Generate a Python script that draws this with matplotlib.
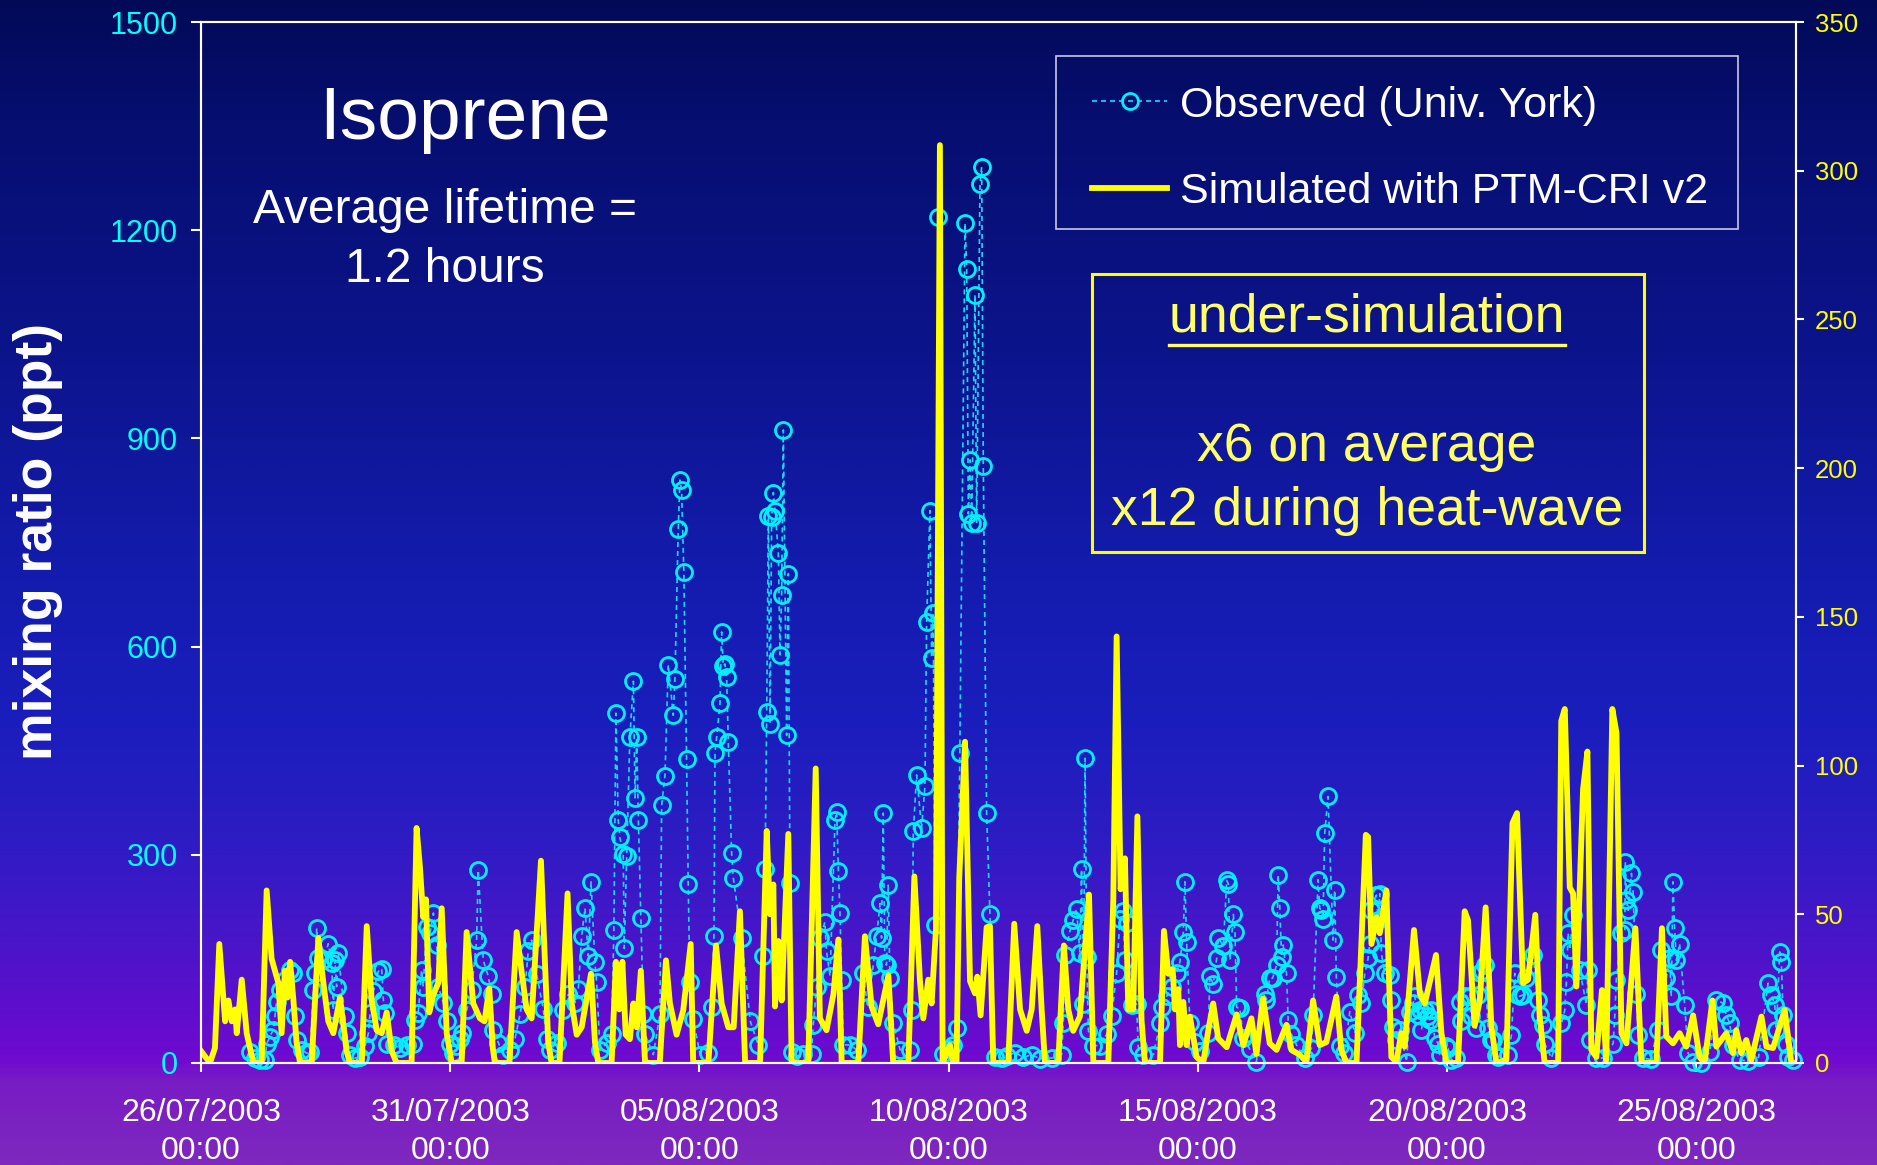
import numpy as np
import matplotlib
matplotlib.use('Agg')
import matplotlib.pyplot as plt
from matplotlib.colors import LinearSegmentedColormap
from matplotlib.lines import Line2D
from matplotlib.patches import Rectangle

plt.rcParams['font.family'] = ['Liberation Sans', 'DejaVu Sans']

# x axis = hours since 26/07/2003 00:00
date_ticks = [0, 120, 240, 360, 480, 600, 720]
date_labels = ['26/07/2003\n00:00', '31/07/2003\n00:00', '05/08/2003\n00:00',
               '10/08/2003\n00:00', '15/08/2003\n00:00', '20/08/2003\n00:00',
               '25/08/2003\n00:00']
ppt_ticks = [0, 300, 600, 900, 1200, 1500]
sim_ticks = [0, 50, 100, 150, 200, 250, 300, 350]

# observed isoprene (ppt), (hour, value)
obs_pts = [
    (23.6, 16), (26, 7), (28.4, 4), (30.8, 4), (31.6, 28), (33.2, 38), (34.8, 48), (35.6, 67),
    (36.4, 88), (38, 105), (40.4, 120), (42.9, 134), (44.5, 129), (45.3, 67), (46, 33), (48.5, 19),
    (50.9, 14), (52.5, 16), (54.1, 105), (54.9, 129), (55.7, 194), (56.5, 151), (58.9, 148),
    (61.3, 172), (62.9, 144), (63.7, 76), (64.5, 148), (65.3, 110), (66.1, 158), (69.3, 67),
    (70.1, 43), (71.7, 12), (74.1, 7), (76.6, 9), (79, 24), (80.6, 43), (81.4, 72), (83, 103),
    (85.4, 132), (87, 136), (87.8, 91), (88.6, 72), (89.4, 28), (92.8, 26), (95.8, 21), (99, 26),
    (102.2, 28), (103, 62), (104.6, 72), (106.2, 134), (107, 110), (108.6, 196), (110.3, 187),
    (111.9, 216), (113.5, 170), (114.3, 110), (116.7, 86), (118.3, 60), (119.9, 28), (121.5, 14),
    (123, 24), (124.7, 35), (125.5, 43), (127.9, 76), (130.3, 105), (132.7, 177), (133.5, 278),
    (135.9, 148), (138.3, 125), (139.9, 99), (140.7, 47), (143.2, 29), (145.5, 12), (148.8, 18),
    (151.2, 35), (153.6, 70), (156, 110), (157.6, 162), (159.2, 177), (161.6, 128), (164.8, 78),
    (166.4, 35), (168, 18), (171.2, 29), (174.5, 76), (176.9, 99), (180.1, 87), (181.7, 107),
    (183.3, 183), (184.9, 223), (186.5, 154), (187.8, 261), (189.7, 145), (190.5, 116), (192.1, 18),
    (195.3, 29), (197.7, 41), (198.8, 191), (199.8, 504), (200.9, 350), (201.7, 325), (203.3, 301),
    (203.8, 165), (205, 298), (206.5, 469), (208.2, 550), (209, 382), (209.8, 469), (210.6, 350),
    (211.8, 209), (213, 70), (213.8, 41), (217.8, 12), (221, 70), (221.8, 371), (223.4, 414),
    (225, 574), (227.4, 501), (228.2, 553), (229.8, 770), (230.6, 840), (231.4, 826), (232.5, 707),
    (233.8, 438), (234.6, 258), (235.4, 116), (237, 64), (240.3, 12), (244.3, 15), (245.9, 81),
    (247, 183), (247.5, 447), (248.3, 470), (249.9, 518), (250.7, 621), (251.5, 572), (252.3, 575),
    (253.1, 556), (253.9, 463), (255.5, 302), (256.3, 267), (260.3, 180), (264.5, 60), (268.3, 26),
    (270.8, 154), (271.6, 280), (272.4, 506), (273.2, 788), (274, 489), (274.8, 787), (275.6, 822),
    (276.4, 796), (278, 735), (278.8, 588), (279.6, 675), (280.4, 912), (282, 472), (282.8, 705),
    (283.6, 260), (284.4, 16), (287, 10), (290, 13), (294, 13), (294.8, 55), (296.4, 109), (298, 180),
    (300.4, 203), (301.2, 161), (302.9, 125), (305.3, 350), (306.1, 362), (306.9, 277), (307.7, 216),
    (308.5, 119), (309.3, 26), (312.5, 26), (315.7, 19), (318.9, 129), (321, 80), (323.7, 141),
    (325.3, 183), (327, 230), (327.7, 180), (328.5, 360), (329.3, 144), (330.1, 141), (330.9, 256),
    (331.7, 122), (333.3, 58), (336.6, 19), (341.4, 19), (342.2, 77), (343, 334), (344.6, 415),
    (347, 338), (348.6, 399), (349.4, 636), (351, 796), (351.8, 584), (352.6, 649), (353.4, 199),
    (355, 1219), (357.4, 13), (360, 20), (362.2, 26), (363.8, 51), (365.4, 447), (367.9, 1210),
    (368.7, 1144), (369.5, 791), (370.3, 869), (371.1, 778), (372.7, 1107), (373.5, 778),
    (375.1, 1266), (375.9, 1291), (376.7, 860), (378.3, 360), (379.9, 214), (382.3, 9), (385.5, 7),
    (388, 10), (392, 15), (396, 8), (400, 12), (404, 6), (409.6, 7), (414.4, 12), (415.2, 57),
    (416, 156), (418.4, 190), (420, 206), (421.6, 222), (423.2, 159), (424, 279), (424.9, 85),
    (425.7, 439), (426.5, 153), (427.3, 46), (429.7, 25), (432.9, 25), (436.1, 41), (438.5, 67),
    (440.9, 130), (442.5, 208), (444.1, 219), (444.9, 148), (445.7, 201), (448.1, 83), (450.5, 85),
    (451.3, 23), (453.7, 12), (458.6, 12), (461.8, 57), (462.6, 80), (465, 96), (467.4, 109),
    (469.8, 130), (471.4, 146), (473, 188), (473.8, 261), (474.6, 174), (476.2, 57), (478.5, 30),
    (481, 17), (485, 43), (485.8, 125), (487.4, 114), (489.1, 151), (489.9, 180), (492.3, 169),
    (493.9, 263), (494.7, 258), (495.5, 148), (497.1, 214), (497.9, 188), (498.7, 80), (500.2, 79),
    (501.9, 36), (505, 20), (508.2, 2), (512.2, 100), (513, 91), (514.6, 122), (516, 122),
    (517.9, 141), (518.7, 271), (519.5, 223), (520.3, 153), (521.1, 170), (522.7, 129), (523.5, 62),
    (525.1, 41), (527.5, 26), (531.5, 7), (534.7, 21), (535.5, 69), (537.9, 264), (538.7, 223),
    (539.5, 220), (540.3, 208), (541.1, 331), (542.7, 384), (545.1, 177), (545.9, 249), (546.7, 124),
    (548.3, 24), (550.5, 15), (553.2, 74), (555.6, 43), (557.2, 98), (558.8, 86), (560.4, 129),
    (562, 151), (562.8, 172), (563.6, 220), (566, 242), (566.8, 206), (567.6, 244), (568.4, 158),
    (570, 129), (572.4, 127), (573.2, 91), (574, 52), (575.6, 33), (577.2, 48), (580.5, 2),
    (582.1, 74), (583.7, 86), (584.4, 96), (586.1, 69), (586.9, 76), (587.7, 48), (589.3, 76),
    (590.9, 67), (591.7, 62), (592.5, 76), (594.1, 36), (595.7, 28), (596.5, 12), (599.7, 24),
    (600.5, 21), (602.1, 4), (604.5, 7), (606.1, 88), (606.9, 60), (608.5, 96), (610.9, 96),
    (611.5, 67), (614.1, 50), (614.9, 98), (615.7, 129), (616.6, 132), (618.2, 141), (619.8, 50),
    (621.4, 33), (622.1, 33), (623.8, 12), (624.6, 9), (629.4, 12), (631, 40), (632.6, 129),
    (633.4, 100), (635, 96), (636.6, 98), (638.2, 122), (641.4, 156), (643.8, 91), (644.6, 69),
    (646.2, 55), (647, 28), (650.3, 7), (655.1, 57), (656.7, 76), (657.5, 117), (658.3, 187),
    (659.1, 163), (660.7, 213), (663.9, 134), (667.1, 84), (667.9, 134), (668.7, 33), (671.9, 7),
    (675, 7), (680, 28), (680.8, 69), (681.5, 120), (684, 187), (685.6, 192), (685.9, 290),
    (686.4, 235), (687.2, 220), (688.8, 273), (689.6, 247), (691.2, 100), (692, 40), (694.4, 7),
    (698, 5), (701.6, 48), (703.2, 163), (705.6, 122), (707.2, 151), (708, 96), (708.8, 261),
    (709.6, 194), (710.4, 148), (712, 172), (714.4, 84), (716.1, 14), (718.5, 2), (722.5, 0),
    (726.5, 16), (729.7, 91), (732.9, 86), (734.5, 69), (736.1, 57), (737.7, 26), (740.9, 4),
    (745, 3), (750, 8), (754.6, 115), (756.2, 98), (757.8, 84), (758.6, 48), (760.2, 160),
    (761, 146), (761.8, 69), (763.4, 28), (764.2, 9), (766.6, 4),
]

# simulated isoprene, PTM-CRI v2 (right axis), (hour, value)
sim_pts = [
    (0, 4), (4.3, 0), (6.7, 5), (8.8, 40), (11.6, 14), (13.2, 21), (14.8, 14), (16.4, 18), (17.2, 10),
    (19.6, 28), (22, 10), (25.2, 0), (29.2, 0), (31.6, 58), (34, 35), (37.2, 27), (38.8, 10),
    (40.4, 31), (41.6, 22), (42.9, 34), (44.5, 21), (46, 7), (47.7, 0), (53.3, 0), (56.5, 42),
    (58.9, 27), (61.3, 14), (63.7, 10), (66.9, 22), (70.1, 4), (71.7, 0), (77.4, 0), (79.8, 46),
    (82.2, 21), (84.6, 11), (87, 10), (89.4, 17), (91.8, 4), (94.2, 0), (101.4, 0), (103.8, 79),
    (105.4, 66), (107, 49), (108.3, 55), (109.9, 17), (111.9, 23), (114.3, 27), (115.9, 52),
    (118.3, 10), (120.7, 0), (125.5, 0), (127.9, 44), (131.1, 20), (134.3, 15), (136.5, 14),
    (138.8, 25), (140.5, 5), (141.5, 0), (148.5, 0), (152, 44), (154.5, 30), (156.8, 18), (159.2, 15),
    (163.7, 68), (165.6, 34), (167.2, 7), (168.8, 0), (172.6, 0), (176.5, 57), (178.5, 20),
    (180.9, 9.5), (183.3, 12), (187.8, 30), (189.7, 7), (191.3, 0), (197.7, 0), (199.8, 34),
    (201.4, 18), (202.9, 34), (204.5, 9.5), (206.5, 8), (208.2, 20), (209.8, 12), (211.8, 31),
    (213.8, 0), (220.9, 0), (223.9, 34.5), (225.8, 20), (229, 9.5), (232.2, 17.7), (235.8, 40),
    (237, 0), (244.3, 0), (248, 39.5), (250.7, 20), (253.9, 12), (256.5, 12), (259.5, 51), (262, 0),
    (269.2, 0), (272.4, 78), (274, 50), (275.6, 60), (276.4, 19), (278, 41), (279.6, 21), (282.8, 77),
    (284.4, 0), (292.4, 0), (296, 99), (298, 15), (301.2, 11), (304.5, 23), (306.9, 41.5), (308.5, 0),
    (316.5, 0), (319.7, 42.6), (322.9, 19), (326.1, 13), (328.5, 21), (331, 29.5), (333.3, 0),
    (340.6, 0), (343.5, 62.7), (346.2, 27.5), (347.8, 15), (350.2, 28), (351.8, 20), (353.9, 45),
    (355.8, 308.6), (357.1, 0), (360.6, 6), (362.2, 0), (363.8, 0), (365.1, 62), (367.9, 108),
    (370.3, 27.5), (372.7, 23.4), (373.8, 29), (375.4, 16), (378.3, 45.6), (379.9, 46), (381.5, 0),
    (388.7, 0), (391.6, 46.8), (394.4, 18), (397.6, 10.8), (400, 18), (402.7, 46), (404.8, 18),
    (406.4, 0), (412.8, 0), (415.5, 39.5), (417.6, 18), (420, 10.8), (423.2, 15.6), (427.6, 56.6),
    (429.7, 0), (436.9, 0), (439.3, 54.8), (440.9, 143.4), (442.8, 58.4), (444.9, 68.8), (446.5, 18),
    (448.9, 18), (450.9, 82.9), (452.9, 14.4), (454.5, 0), (461.8, 0), (463.7, 44.4), (465.8, 30),
    (467.9, 31.5), (469, 18), (470.6, 24.8), (471.4, 6), (473, 20.5), (474.6, 6), (476.2, 15.6),
    (479.4, 2), (482.6, 0), (485, 10.8), (487.4, 20), (489.8, 8.3), (493.9, 5.3), (498.7, 16.3),
    (501.9, 6), (505.8, 15), (508.2, 3), (511.4, 21.7), (514.6, 6.6), (517.9, 4.4), (522.7, 12.8),
    (525.1, 4.4), (529.1, 2.7), (532.3, 0.4), (535.5, 21), (538.7, 6), (541.9, 7), (546.7, 22.3),
    (549.1, 4.4), (551.6, 0), (556.4, 0), (560.9, 76.7), (562, 76), (563.6, 40), (566, 49),
    (567.6, 43.6), (570.8, 58), (573.2, 2), (575.6, 0.4), (578, 10), (579.6, 5.5), (584.1, 44.7),
    (586.9, 23.4), (589.3, 20), (594.7, 36.3), (597.3, 10), (599.7, 0), (605.3, 0), (608.5, 51),
    (610.1, 48), (613.3, 12.5), (615.8, 21), (618.6, 52.3), (621.4, 12), (623.8, 0), (628.6, 1),
    (631.5, 80.6), (633.7, 84), (636.6, 26.8), (639, 28), (642.5, 49.8), (644.6, 15.6), (647, 0),
    (653.5, 0), (655, 115), (656.7, 119), (659.1, 59), (660.7, 57), (662.3, 25.7), (665.5, 92),
    (667.6, 104.7), (669.5, 4.4), (671.9, 2), (673.2, 13), (674.6, 24.5), (676.7, 1), (679.6, 119),
    (681.6, 111), (684, 10), (686.4, 6.6), (690.7, 45.3), (693.6, 0), (700.8, 0), (703.5, 45.3),
    (705.6, 8.9), (708.8, 6.6), (712, 10), (715.2, 5.5), (718.5, 16), (721.6, 2), (724, 0),
    (727.8, 21), (729.7, 5.5), (734.5, 10), (737.7, 3.3), (739.3, 11), (741.7, 3.3), (744.1, 7.7),
    (746.5, 1), (751.4, 15.6), (753.8, 5.5), (757, 5), (762.6, 17.8), (765.8, 0), (768, 0),
]

obs = np.array(sorted(obs_pts))
sim = np.array(sorted(sim_pts))

fig = plt.figure(figsize=(18.77, 11.65), dpi=100)

# background gradient (dark navy -> blue -> purple)
stops = [(0.00, (2, 10, 88)), (0.10, (6, 14, 112)), (0.30, (12, 20, 140)), (0.50, (20, 28, 175)),
         (0.62, (26, 30, 188)), (0.72, (45, 28, 195)), (0.80, (70, 22, 200)), (0.87, (95, 14, 205)),
         (0.912, (112, 10, 208)), (0.93, (120, 28, 196)), (1.00, (126, 40, 190))]
cmap = LinearSegmentedColormap.from_list('bg', [(p, tuple(c / 255 for c in rgb)) for p, rgb in stops])
bg = fig.add_axes([0, 0, 1, 1], zorder=-10)
bg.imshow(np.linspace(0, 1, 600).reshape(-1, 1), aspect='auto', cmap=cmap, extent=[0, 1, 0, 1])
bg.axis('off')

ax = fig.add_axes([0.1071, 0.0876, 0.8497, 0.8935])
ax.set_facecolor('none')
ax2 = ax.twinx()
ax2.patch.set_visible(False)

obs_style = dict(color='#1ad8ff', ls=(0, (3, 2.4)), lw=1.2, marker='o', ms=11.5,
                 mfc='none', mec='#00f0ff', mew=2.0)
sim_style = dict(color='#ffff00', lw=4.2)
ax.plot(obs[:, 0], obs[:, 1], clip_on=False, **obs_style)
ax2.plot(sim[:, 0], sim[:, 1], **sim_style)

ax.set_xlim(0, 768)
ax.set_ylim(0, 1500)
ax2.set_ylim(0, 350)
ax.set_xticks(date_ticks)
ax.set_xticklabels(date_labels, linespacing=1.32)
ax.set_yticks(ppt_ticks)
ax2.set_yticks(sim_ticks)

for a in (ax, ax2):
    for s in a.spines.values():
        s.set_color('white')
        s.set_linewidth(1.5)
ax.tick_params(axis='x', colors='white', labelcolor='white', labelsize=23, length=6.5, width=1.5, pad=19)
ax.tick_params(axis='y', colors='white', labelcolor='#00ffff', labelsize=22, length=7, width=1.5, pad=9.5)
ax2.tick_params(axis='y', colors='white', labelcolor='#ffff00', labelsize=18.5, length=5.5, width=1.5, pad=8)

fig.text(38 / 1877, 0.5356, 'mixing ratio (ppt)', rotation=90, ha='center', va='center',
         color='white', fontsize=38.5, fontweight='bold')

ax2.text(0.1655, 0.906, 'Isoprene', transform=ax2.transAxes, ha='center', va='center',
         color='white', fontsize=54)
ax2.text(0.153, 0.7905, 'Average lifetime =\n1.2 hours', transform=ax2.transAxes, ha='center',
         va='center', multialignment='center', linespacing=1.38, color='white', fontsize=34.5)

# legend: frame drawn separately so its size can follow the reference
ax2.add_patch(Rectangle((0.536, 0.801), 0.4276, 0.166, transform=ax2.transAxes,
                        fill=False, edgecolor='#c8c8e0', lw=1.2))
h_obs = Line2D([], [], **obs_style)
h_sim = Line2D([], [], **sim_style)
leg = ax2.legend([h_obs, h_sim], ['Observed (Univ. York)', 'Simulated with PTM-CRI v2'],
                 loc='upper left', bbox_to_anchor=(0.5586, 0.939), borderaxespad=0,
                 fontsize=31, frameon=False, handlelength=1.75,
                 handletextpad=0.3, labelspacing=1.07, borderpad=0, numpoints=1)
for t in leg.get_texts():
    t.set_color('white')

# yellow annotation box
ax2.add_patch(Rectangle((0.5586, 0.491), 0.346, 0.267, transform=ax2.transAxes,
                        fill=False, edgecolor='#ffff00', lw=2.2))
box_col = '#ffff66'
t_under = ax2.text(0.731, 0.7166, 'under-simulation', transform=ax2.transAxes, ha='center',
                   va='center', color=box_col, fontsize=38.5)
ax2.text(0.731, 0.5917, 'x6 on average', transform=ax2.transAxes, ha='center', va='center',
         color=box_col, fontsize=38.5)
ax2.text(0.731, 0.530, 'x12 during heat-wave', transform=ax2.transAxes, ha='center', va='center',
         color=box_col, fontsize=38.5)

fig.canvas.draw()
bb = t_under.get_window_extent(fig.canvas.get_renderer())
inv = ax2.transAxes.inverted()
x0, _ = inv.transform((bb.x0, bb.y0))
x1, _ = inv.transform((bb.x1, bb.y0))
ax2.plot([x0, x1], [0.6897, 0.6897], transform=ax2.transAxes, color=box_col, lw=2.4, clip_on=False)

fig.savefig('out.png', dpi=100)
